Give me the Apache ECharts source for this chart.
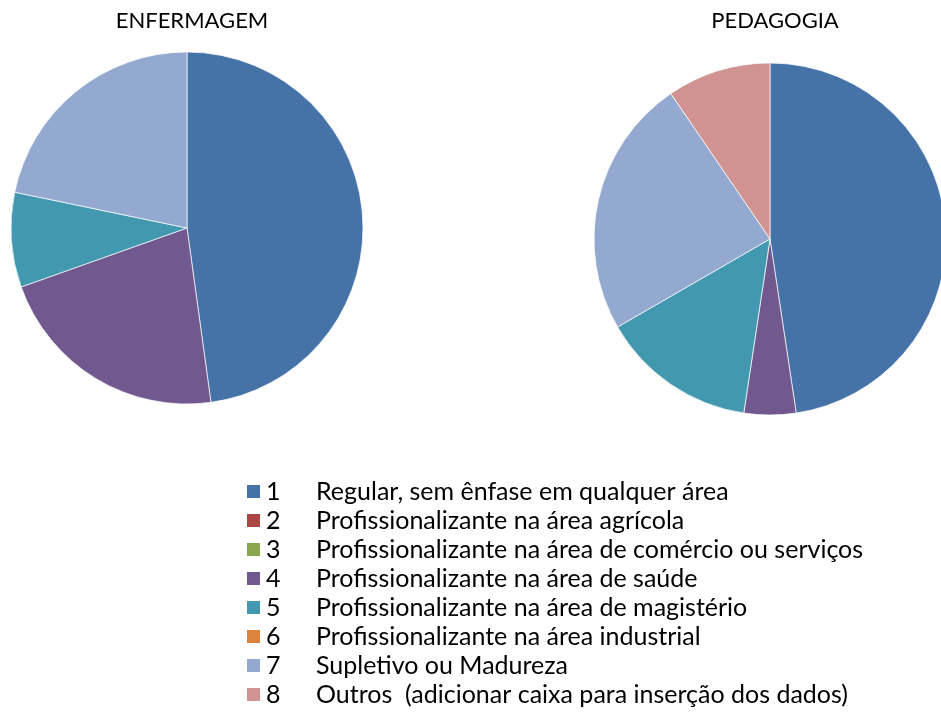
<!DOCTYPE html>
<html>
<head>
<meta charset="UTF-8">
<title>Escolaridade</title>
<script src="https://cdn.jsdelivr.net/npm/echarts@6/dist/echarts.min.js"></script>
<style>
	html, body { margin: 0; padding: 0; background: #fff; }
	#chart { width: 941px; height: 713px; }
</style>
<script type="text/javascript">

	var categories = [
		'Regular, sem ênfase em qualquer área',
		'Profissionalizante na área agrícola',
		'Profissionalizante na área de comércio ou serviços',
		'Profissionalizante na área de saúde',
		'Profissionalizante na área de magistério',
		'Profissionalizante na área industrial',
		'Supletivo ou Madureza',
		'Outros  (adicionar caixa para inserção dos dados)'
	];
	var codes = ['1', '2', '3', '4', '5', '6', '7', '8'];
	var colors = ['#4572A7', '#AA4643', '#89A54E', '#71588F', '#4198AF', '#DB843D', '#93A9CF', '#D19392'];

	var enfermagem = [11, 0, 0, 5, 2, 0, 5, 0];
	var pedagogia = [10, 0, 0, 1, 3, 0, 5, 2];

	var fontFamily = 'Lato, "Open Sans", sans-serif';

	function pieData(values) {
		var list = [];
		for (var i = 0; i < categories.length; i++) {
			// zero values are left out so no border line is drawn for them
			list.push({ name: categories[i], value: values[i] === 0 ? '-' : values[i] });
		}
		return list;
	}

	function pieSeries(name, values, center) {
		return {
			name: name,
			type: 'pie',
			center: center,
			radius: 176,
			startAngle: 90,
			clockwise: true,
			silent: true,
			label: { show: false },
			labelLine: { show: false },
			itemStyle: { borderColor: '#ffffff', borderWidth: 0.7 },
			data: pieData(values)
		};
	}

	window.onload = function() {
		var chart = echarts.init(document.getElementById('chart'));
		var option = {
			animation: false,
			color: colors,
			title: [{
				text: 'ENFERMAGEM',
				left: 187, top: 5, textAlign: 'center',
				textStyle: { fontFamily: fontFamily, fontSize: 22, fontWeight: 'normal', color: '#000' }
			}, {
				text: 'PEDAGOGIA',
				left: 770, top: 5, textAlign: 'center',
				textStyle: { fontFamily: fontFamily, fontSize: 22, fontWeight: 'normal', color: '#000' }
			}],
			legend: {
				orient: 'vertical',
				left: 245,
				top: 477,
				height: 236,
				padding: 0,
				itemGap: 0,
				itemWidth: 15,
				itemHeight: 15,
				icon: 'rect',
				data: categories,
				formatter: function(name) {
					return '{n|' + codes[categories.indexOf(name)] + '}{t|' + name + '}';
				},
				textStyle: {
					fontFamily: fontFamily,
					fontSize: 25,
					color: '#000',
					lineHeight: 29,
					rich: {
						n: { width: 50, fontFamily: fontFamily, fontSize: 25, lineHeight: 29, color: '#000' },
						t: { fontFamily: fontFamily, fontSize: 25, lineHeight: 29, color: '#000' }
					}
				}
			},
			series: [
				pieSeries('ENFERMAGEM', enfermagem, [187, 228]),
				pieSeries('PEDAGOGIA', pedagogia, [770, 239])
			]
		};
		chart.setOption(option);
	};
</script>
</head>
<body>
	<div id="chart"></div>
</body>
</html>
